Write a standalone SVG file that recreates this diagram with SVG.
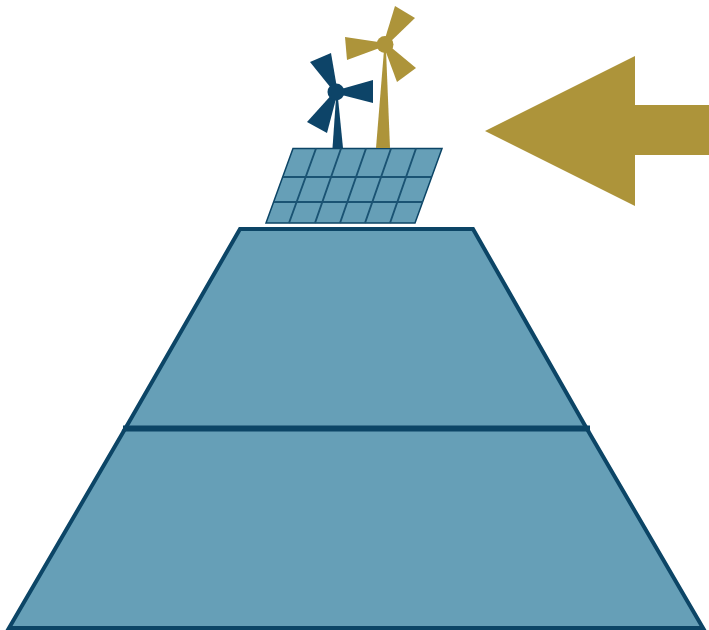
<svg xmlns="http://www.w3.org/2000/svg" width="709" height="630" viewBox="0 0 709 630">
<style>
.navy{fill:#0d4468}
.gold{fill:#ad943a}
.body{fill:#669fb7;stroke:#0c4566;stroke-linejoin:miter}
.grid{fill:none;stroke:#1a5373;stroke-width:1.900}
</style>
<rect width="709" height="630" fill="#fff"/>
<g id="pyramid-lower"><path class="body" stroke-width="4" d="M125 429H587L703 628H9Z"/></g>
<g id="pyramid-upper"><path class="body" stroke-width="4" d="M240 229H473L587 429H125Z"/></g>
<g id="divider"><path d="M123 428.500H590" stroke="#0c4566" stroke-width="6" fill="none"/></g>
<g id="solar-panel">
<path class="body" stroke-width="1.500" d="M293 148.500H442L415 223H266Z"/>
<path class="grid" d="M283 177H431.500M274 202H423M316 148.500L289 223M341 148.500L315 223M366 148.500L340 223M391 148.500L365 223M416 148.500L390 223"/>
</g>
<g id="turbine-gold" class="gold">
<path d="M384 50L376 148H390L386 50Z"/>
<path d="M383.500 43.500L395 6L415 18L386.500 45.500Z"/>
<path d="M385 43L345 37L347 60L385 46Z"/>
<path d="M386.500 43.500L416 68L397 82L383.500 45.500Z"/>
<circle cx="385" cy="44.500" r="8.500"/>
</g>
<g id="turbine-navy" class="navy">
<path d="M336 98L332.500 148H343L338 98Z"/>
<path d="M335 93L310 62L331 53L337.500 91Z"/>
<path d="M336 90.500L373 80L373 103L336 93.500Z"/>
<path d="M335 91L307 122L327 133L337.500 93Z"/>
<circle cx="336" cy="92" r="8.500"/>
</g>
<g id="arrow"><path class="gold" d="M485 131L635 56V105H709V155H635V206Z"/></g>
</svg>
